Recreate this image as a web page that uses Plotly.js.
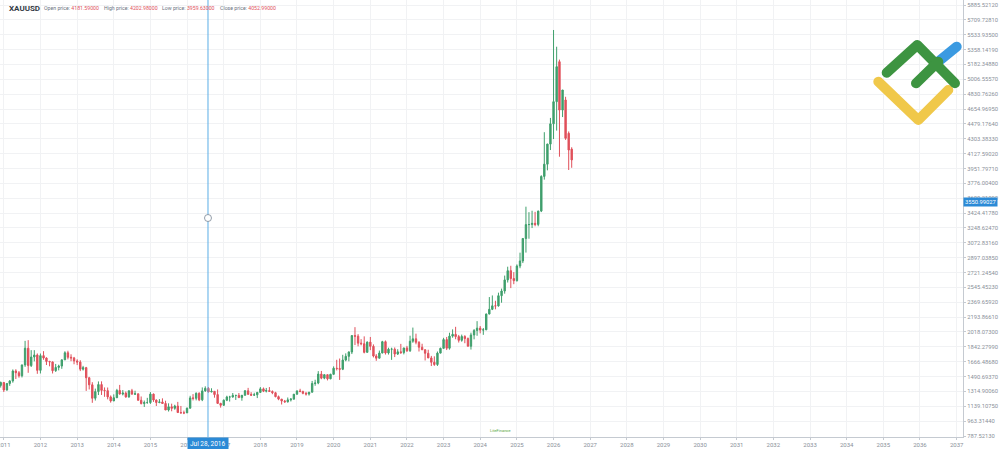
<!DOCTYPE html>
<html>
<head>
<meta charset="utf-8">
<script src="https://cdn.plot.ly/plotly-3.0.1.min.js"></script>
<style>
html,body{margin:0;padding:0;background:#fff;}
#wrap{position:relative;width:1000px;height:449px;}
#chart{width:1000px;height:449px;}
#logo{position:absolute;left:0;top:0;pointer-events:none;}
</style>
</head>
<body>
<div id="wrap">
<div id="chart"></div>
<svg id="logo" width="1000" height="449">
  <g fill="none" stroke-linecap="round" stroke-linejoin="round" stroke-width="10">
    <path d="M878.3,81.7 L918.3,120 L948.3,90" stroke="#f0c84a"/>
    <path d="M938.3,61.7 L956.7,46.7" stroke="#3b9ae1"/>
    <path d="M886.7,72.7 L917.3,45 L955,83.3" stroke="#3d9441"/>
    <path d="M916,83.3 L938.3,61.7" stroke="#3d9441"/>
  </g>
</svg>
</div>
<script>
// Monthly XAUUSD candles, starting Nov 2010
const startYear = 2010, startMonth = 11;
const openP  = [1357,1386,
 1421,1332,1409,1439,1556,1536,1500,1628,1826,1620,1722,1746,
 1564,1738,1710,1669,1664,1560,1599,1615,1688,1772,1719,1711,
 1675,1662,1578,1596,1476,1393,1234,1313,1396,1327,1324,1250,
 1202,1240,1326,1284,1295,1250,1322,1282,1287,1210,1171,1183,
 1183,1283,1213,1184,1190,1172,1095,1133,1115,1142,1065,1061,
 1061,1117,1238,1233,1293,1215,1321,1351,1309,1316,1277,1173,
 1151,1211,1249,1249,1268,1268,1242,1269,1322,1280,1271,1275,
 1303,1345,1318,1325,1315,1299,1253,1224,1201,1192,1215,1223,
 1282,1321,1313,1292,1284,1306,1409,1414,1520,1472,1513,1464,
 1517,1589,1585,1577,1686,1730,1781,1975,1968,1886,1879,1777,
 1898,1848,1734,1708,1769,1903,1770,1814,1814,1757,1783,1774,
 1829,1797,1909,1937,1896,1838,1807,1766,1711,1660,1633,1768,
 1824,1928,1826,1969,1990,1963,1919,1965,1940,1849,1983,2036,
 2063,2040,2044,2230,2286,2327,2326,2447,2503,2634,2743,2650,
 2625,2798,2858,3124,3288,3289,3303,3290,3448,3858,4003,4240,
 4480,4742,5215,4643,4762,4368,4181];
const highP  = [1424,1431,
 1424,1411,1447,1575,1577,1556,1632,1913,1921,1803,1803,1764,
 1763,1791,1718,1677,1669,1640,1631,1692,1790,1796,1754,1723,
 1695,1684,1617,1605,1487,1424,1348,1433,1434,1362,1361,1267,
 1280,1345,1392,1331,1315,1326,1345,1323,1287,1255,1207,1239,
 1307,1290,1219,1224,1233,1205,1174,1170,1157,1191,1143,1088,
 1123,1263,1283,1303,1304,1362,1375,1367,1352,1317,1338,1180,
 1220,1264,1263,1296,1270,1296,1273,1331,1357,1306,1299,1309,
 1366,1361,1356,1366,1326,1310,1266,1224,1214,1243,1237,1284,
 1326,1346,1324,1310,1306,1439,1453,1555,1557,1517,1516,1524,
 1611,1689,1704,1748,1765,1789,1981,2075,1992,1933,1966,1906,
 1959,1871,1756,1798,1913,1917,1832,1832,1835,1814,1877,1831,
 1853,1974,2070,1998,1909,1879,1814,1808,1735,1730,1787,1833,
 1949,1959,2009,2049,2079,1983,1987,1980,1953,2010,2052,2146,
 2088,2065,2236,2431,2450,2387,2483,2531,2685,2790,2801,2726,
 2817,2956,3128,3500,3435,3452,3439,3453,3871,4381,4245,4550,
 5590,5392,5240,4880,4800,4390,4203];
const lowP   = [1330,1360,
 1308,1324,1381,1418,1462,1478,1480,1605,1535,1604,1670,1523,
 1527,1689,1627,1612,1527,1546,1564,1582,1686,1694,1672,1636,
 1626,1555,1562,1321,1338,1180,1207,1272,1273,1251,1221,1182,
 1203,1238,1277,1268,1240,1240,1281,1273,1206,1161,1131,1169,
 1167,1191,1142,1175,1169,1162,1077,1080,1098,1110,1052,1046,
 1062,1111,1208,1209,1200,1200,1310,1302,1304,1241,1171,1123,
 1145,1200,1195,1241,1214,1236,1205,1267,1275,1260,1264,1236,
 1302,1307,1303,1310,1282,1245,1211,1160,1180,1183,1196,1221,
 1276,1307,1281,1266,1266,1301,1382,1400,1459,1459,1445,1459,
 1517,1563,1451,1567,1671,1671,1757,1863,1848,1860,1765,1776,
 1803,1717,1677,1706,1766,1751,1751,1688,1721,1746,1758,1753,
 1781,1781,1890,1872,1787,1805,1681,1709,1615,1617,1616,1765,
 1823,1804,1809,1950,1932,1893,1903,1885,1848,1810,1931,1973,
 2002,1984,2039,2228,2277,2286,2318,2364,2471,2603,2537,2583,
 2614,2772,2833,2957,3121,3247,3268,3268,3436,3820,3930,4170,
 4300,4400,4091,4560,4290,3934,3960];
const closeP = [1386,1421,
 1332,1409,1439,1556,1536,1500,1628,1826,1620,1722,1746,1564,
 1738,1710,1669,1664,1560,1599,1615,1688,1772,1719,1711,1675,
 1662,1578,1596,1476,1393,1234,1313,1396,1327,1324,1250,1202,
 1240,1326,1284,1295,1250,1322,1282,1287,1210,1171,1183,1183,
 1283,1213,1184,1190,1172,1095,1133,1115,1142,1065,1061,1061,
 1117,1238,1233,1293,1215,1321,1351,1309,1316,1277,1173,1151,
 1211,1249,1249,1268,1268,1242,1269,1322,1280,1271,1275,1303,
 1345,1318,1325,1315,1299,1253,1224,1201,1192,1215,1223,1282,
 1321,1313,1292,1284,1306,1409,1414,1520,1472,1513,1464,1517,
 1589,1585,1577,1686,1730,1781,1975,1968,1886,1879,1777,1898,
 1848,1734,1708,1769,1903,1770,1814,1814,1757,1783,1774,1829,
 1797,1909,1937,1896,1838,1807,1766,1711,1660,1633,1768,1824,
 1928,1826,1969,1990,1963,1919,1965,1940,1849,1983,2036,2063,
 2040,2044,2230,2286,2327,2326,2447,2503,2634,2743,2650,2625,
 2798,2858,3124,3288,3289,3303,3290,3448,3858,4003,4240,4480,
 4742,5156,4643,4880,4309,4170,4053];

const yearLabels = ["2011","2012","2013","2014","2015","2016","2017","2018","2019","2020","2021","2022","2023","2024","2025","2026","2027","2028","2029","2030","2031","2032","2033","2034","2035","2036","2037"];
const priceTicks = [5885.52120,5709.72810,5533.93500,5358.14190,5182.34880,5006.55570,4830.76260,4654.96950,4479.17640,4303.38330,4127.59020,3951.79710,3776.00400,3600.21090,3424.41780,3248.62470,3072.83160,2897.03850,2721.24540,2545.45230,2369.65920,2193.86610,2018.07300,1842.27990,1666.48680,1490.69370,1314.90060,1139.10750,963.31440,787.52130];

const symbol = "XAUUSD";
const headerLabels = ["Open price:","High price:","Low price:","Close price:"];
const headerValues = ["4181.59000","4202.98000","3959.63000","4052.99000"];
const crossDate = "2016-07-28", crossDateLabel = "Jul 28, 2016";
const crossPrice = 3550.99027, crossPriceLabel = "3550.99027";
const markerPrice = 3366;

// month dates
const months = [];
for (let i = 0; i < openP.length; i++) {
  const m0 = startMonth - 1 + i;
  const y = startYear + Math.floor(m0 / 12);
  const m = (m0 % 12) + 1;
  months.push(y + "-" + String(m).padStart(2, "0") + "-01");
}
const yearTicks = yearLabels.map(y => y + "-01-01");

const G = "#3f9f6c", R = "#e0505b";
const plotW = 963, plotH = 437;
const px = p => p / plotW, py = p => 1 - p / plotH;
const FONT = "Roboto, 'Open Sans', sans-serif";

const annotations = [];
annotations.push({xref:"paper",yref:"paper",x:px(7),y:py(8),xanchor:"left",yanchor:"middle",showarrow:false,
  text:"<b>"+symbol+"</b>",font:{size:8,color:"#333a44",family:FONT}});
const labelX = [42,102,160,218];
for (let i=0;i<4;i++){
  annotations.push({xref:"paper",yref:"paper",x:px(labelX[i]),y:py(8),xanchor:"left",yanchor:"middle",showarrow:false,
    text:headerLabels[i]+" <span style='color:#e0505b'>"+headerValues[i]+"</span>",
    font:{size:5.2,color:"#6b7280",family:FONT}});
}
annotations.push({xref:"x",yref:"paper",x:crossDate,y:0,xanchor:"center",yanchor:"top",showarrow:false,
  text:crossDateLabel,font:{size:6.5,color:"#ffffff",family:FONT},bgcolor:"#2b8ad6",borderpad:2});
annotations.push({xref:"paper",yref:"y",x:1,y:crossPrice,xanchor:"left",yanchor:"middle",showarrow:false,
  text:crossPriceLabel,font:{size:5.8,color:"#ffffff",family:FONT},bgcolor:"#2b8ad6",borderpad:1});
annotations.push({xref:"paper",yref:"paper",x:px(488),y:py(430),xanchor:"left",yanchor:"middle",showarrow:false,
  text:"LiteFinance",font:{size:4,color:"#5aa845",family:FONT}});

const shapes = [
  {type:"line",xref:"x",yref:"paper",x0:crossDate,x1:crossDate,y0:0,y1:1,line:{color:"#5aaee6",width:1}},
  {type:"circle",xref:"x",yref:"y",xsizemode:"pixel",ysizemode:"pixel",xanchor:crossDate,yanchor:markerPrice,
   x0:-3.5,x1:3.5,y0:-3.5,y1:3.5,fillcolor:"#ffffff",line:{color:"#7a8694",width:0.8}}
];

const trace = {
  type:"candlestick", x:months, open:openP, high:highP, low:lowP, close:closeP,
  increasing:{line:{color:G,width:1},fillcolor:G},
  decreasing:{line:{color:R,width:1},fillcolor:R},
  whiskerwidth:0, hoverinfo:"skip"
};

const layout = {
  width:1000, height:449,
  margin:{l:0,r:37,t:0,b:12,pad:0},
  paper_bgcolor:"#ffffff", plot_bgcolor:"#ffffff",
  showlegend:false,
  font:{family:FONT},
  xaxis:{type:"date",range:["2010-11-24","2037-03-05"],tickvals:yearTicks,ticktext:yearLabels,
    showgrid:true,gridcolor:"#f1f2f4",gridwidth:1,zeroline:false,showline:true,linecolor:"#c5cad1",linewidth:1,
    ticks:"outside",ticklen:2,tickcolor:"#c5cad1",tickfont:{size:6,color:"#8a9099",family:FONT},
    ticklabeloverflow:"allow",
    rangeslider:{visible:false},fixedrange:true},
  yaxis:{side:"right",range:[775.7,5944.7],tickvals:priceTicks,tickformat:".5f",
    showgrid:true,gridcolor:"#f1f2f4",gridwidth:1,zeroline:false,showline:true,linecolor:"#c5cad1",linewidth:1,
    ticks:"outside",ticklen:2,tickcolor:"#c5cad1",tickfont:{size:5.8,color:"#8a9099",family:FONT},
    ticklabeloverflow:"allow",fixedrange:true},
  annotations:annotations,
  shapes:shapes
};

Plotly.newPlot("chart",[trace],layout,{displayModeBar:false,staticPlot:true});
</script>
</body>
</html>
